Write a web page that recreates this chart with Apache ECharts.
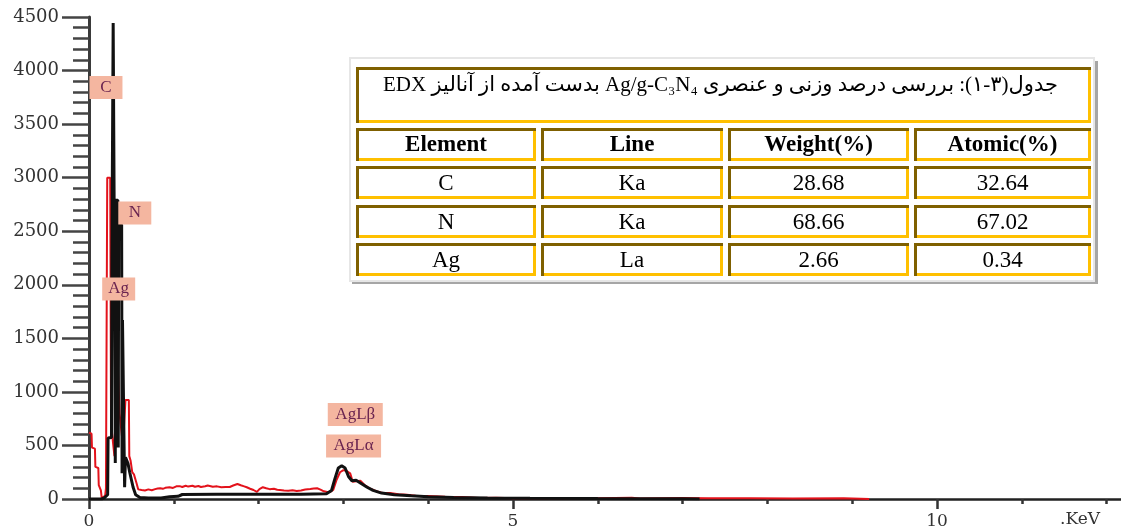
<!DOCTYPE html>
<html>
<head>
<meta charset="utf-8">
<script src="https://cdn.jsdelivr.net/npm/echarts@6/dist/echarts.min.js"></script>
<style>
html, body { margin: 0; padding: 0; background: #fff; }
#chart { width: 1121px; height: 529px; }
</style>
</head>
<body>
<div id="chart"></div>
<script>
// EDX spectrum of Ag/g-C3N4, two traces (keV, counts)
const redEnergy = [0.00, 0.03, 0.035, 0.07, 0.075, 0.11, 0.115, 0.14, 0.15, 0.17, 0.19, 0.20, 0.21, 0.215, 0.25, 0.26, 0.30, 0.33, 0.36, 0.40, 0.43, 0.47, 0.475, 0.49, 0.51, 0.53, 0.56, 0.58, 0.62, 0.66, 0.70, 0.74, 0.78, 0.81, 0.84, 0.87, 0.90, 0.95, 0.99, 1.03, 1.07, 1.10, 1.14, 1.17, 1.22, 1.25, 1.29, 1.32, 1.37, 1.40, 1.42, 1.46, 1.51, 1.56, 1.61, 1.66, 1.70, 1.75, 1.79, 1.83, 1.86, 1.90, 1.94, 1.98, 2.01, 2.05, 2.09, 2.13, 2.18, 2.22, 2.25, 2.30, 2.35, 2.40, 2.45, 2.50, 2.55, 2.61, 2.65, 2.69, 2.73, 2.77, 2.81, 2.84, 2.88, 2.92, 2.96, 3.00, 3.04, 3.08, 3.11, 3.15, 3.20, 3.25, 3.31, 3.38, 3.47, 3.55, 3.65, 3.75, 3.85, 4.00, 4.20, 4.40, 4.60, 4.80, 5.00, 5.30, 5.60, 6.00, 6.40, 6.50, 7.00, 7.30, 7.80, 8.30, 8.90, 9.20]
const redCounts = [620, 610, 480, 470, 300, 290, 130, 80, 10, 0, 30, 100, 110, 3000, 3000, 700, 400, 1500, 800, 500, 925, 925, 400, 360, 250, 230, 150, 90, 84, 80, 90, 82, 92, 98, 100, 95, 104, 110, 103, 118, 120, 112, 124, 116, 124, 114, 121, 112, 119, 126, 112, 114, 118, 110, 113, 112, 126, 140, 128, 118, 110, 96, 84, 66, 92, 110, 100, 92, 96, 86, 84, 80, 78, 82, 75, 80, 88, 93, 98, 100, 88, 72, 66, 65, 84, 180, 250, 270, 260, 240, 160, 165, 170, 130, 100, 75, 55, 55, 45, 40, 30, 28, 22, 18, 10, 12, 8, 10, 6, 8, 12, 4, 10, 6, 8, 4, 8, 0]

const blackEnergy = [0.00, 0.15, 0.18, 0.22, 0.225, 0.265, 0.27, 0.285, 0.295, 0.30, 0.31, 0.315, 0.34, 0.345, 0.35, 0.385, 0.39, 0.395, 0.415, 0.42, 0.43, 0.44, 0.46, 0.48, 0.50, 0.52, 0.55, 0.60, 0.70, 0.85, 0.95, 1.05, 1.10, 1.50, 2.00, 2.50, 2.80, 2.86, 2.90, 2.94, 2.98, 3.02, 3.06, 3.10, 3.15, 3.20, 3.28, 3.35, 3.45, 3.60, 3.80, 4.00, 4.30, 4.70, 5.20, 6.00, 7.00, 7.20]
const blackCounts = [0, 0, 10, 40, 570, 575, 2250, 4445, 4445, 2250, 335, 2790, 2790, 480, 2560, 2560, 240, 1670, 1670, 110, 390, 380, 330, 250, 180, 110, 40, 15, 10, 10, 20, 25, 42, 44, 45, 44, 48, 80, 190, 290, 310, 290, 210, 170, 175, 150, 110, 80, 55, 40, 30, 22, 15, 10, 6, 4, 2, 0]

// peak annotations
const peakNames = ['C', 'N', 'Ag', 'AgLβ', 'AgLα']
const peakEnergy = [0.20, 0.54, 0.35, 3.14, 3.12]
const peakCounts = [3842, 2670, 1961, 789, 495]

// inset table
const tableCaption = 'جدول(۳-۱): بررسی درصد وزنی و عنصری Ag/g-C₃N₄ بدست آمده از آنالیز EDX'
const tableHeader = ['Element', 'Line', 'Weight(%)', 'Atomic(%)']
const tableElements = ['C', 'N', 'Ag']
const tableLines = ['Ka', 'Ka', 'La']
const tableWeight = ['28.68', '68.66', '2.66']
const tableAtomic = ['32.64', '67.02', '0.34']

const zip = (xs, ys) => xs.map((x, i) => [x, ys[i]])

const colX = [356, 541, 728, 914]
const colW = [180, 182, 181, 177]
const rowY = [128, 166, 205, 243]
const rowH = 33
const dark = '#7f6000'
const gold = '#ffc000'

function cell(x, y, w, h) {
  const b = 3
  return [
    { type: 'rect', shape: { x, y, width: w, height: h }, style: { fill: '#fff' } },
    { type: 'rect', shape: { x, y, width: w, height: b }, style: { fill: dark } },
    { type: 'rect', shape: { x, y, width: b, height: h }, style: { fill: dark } },
    { type: 'rect', shape: { x: x + b, y: y + h - b, width: w - b, height: b }, style: { fill: gold } },
    { type: 'rect', shape: { x: x + w - b, y: y + b, width: b, height: h - b }, style: { fill: gold } }
  ]
}

function cellText(text, col, row, bold) {
  return {
    type: 'text',
    style: {
      text,
      x: colX[col] + colW[col] / 2,
      y: rowY[row] + rowH / 2 + 1,
      align: 'center',
      verticalAlign: 'middle',
      fill: '#000',
      font: (bold ? 'bold ' : '') + '23px "Liberation Serif"'
    }
  }
}

const table = []
// frame with shadow
table.push({ type: 'rect', shape: { x: 352, y: 61, width: 746, height: 223 }, style: { fill: '#a6a6a6' } })
table.push({ type: 'rect', shape: { x: 350, y: 58, width: 744, height: 223 }, style: { fill: '#fff', stroke: '#e6e6e6', lineWidth: 2 } })
table.push(...cell(356, 67, 735, 56))
table.push({
  type: 'text',
  style: {
    text: '\u202B' + tableCaption + '\u202C',
    x: 1058,
    y: 85,
    align: 'right',
    verticalAlign: 'middle',
    fill: '#000',
    font: '21px "Liberation Serif", "DejaVu Sans"'
  }
})
for (let r = 0; r < 4; r++) {
  for (let c = 0; c < 4; c++) table.push(...cell(colX[c], rowY[r], colW[c], rowH))
}
tableHeader.forEach((t, c) => table.push(cellText(t, c, 0, true)))
const columns = [tableElements, tableLines, tableWeight, tableAtomic]
columns.forEach((col, c) => col.forEach((t, r) => table.push(cellText(t, c, r + 1, false))))

table.push({
  type: 'text',
  style: {
    text: '.KeV', x: 1080, y: 520, align: 'center', verticalAlign: 'middle',
    fill: '#333', font: '17px "DejaVu Serif"'
  }
})

const chart = echarts.init(document.getElementById('chart'))
const option = {
  animation: false,
  backgroundColor: '#fff',
  grid: { left: 89, top: 17, width: 1272, height: 482, outerBoundsMode: 'none' },
  xAxis: {
    type: 'value',
    min: 0,
    max: 15,
    interval: 5,
    axisLine: { show: true, onZero: false, lineStyle: { color: '#222', width: 2.5 } },
    axisTick: { show: true, length: 10, lineStyle: { color: '#333', width: 2.5 } },
    minorTick: { show: true, splitNumber: 5, length: 5, lineStyle: { color: '#333', width: 2.5 } },
    axisLabel: { margin: 14, color: '#333', fontFamily: 'DejaVu Serif', fontSize: 17 },
    splitLine: { show: false }
  },
  yAxis: {
    type: 'value',
    min: 0,
    max: 4500,
    interval: 500,
    axisLine: { show: true, lineStyle: { color: '#3a3a3a', width: 3 } },
    axisTick: { show: true, length: 27, lineStyle: { color: '#444', width: 2.5 } },
    minorTick: { show: true, splitNumber: 5, length: 16, lineStyle: { color: '#444', width: 2.5 } },
    axisLabel: { margin: 30, color: '#333', fontFamily: 'DejaVu Serif', fontSize: 18, formatter: v => String(v) },
    splitLine: { show: false }
  },
  series: [
    {
      type: 'line',
      data: zip(redEnergy, redCounts),
      showSymbol: false,
      lineStyle: { color: '#e3121b', width: 2 },
      z: 2
    },
    {
      type: 'line',
      data: zip(blackEnergy, blackCounts),
      showSymbol: false,
      lineStyle: { color: '#111', width: 3 },
      z: 3
    },
    {
      type: 'scatter',
      data: peakNames.map((n, i) => ({ name: n, value: [peakEnergy[i], peakCounts[i]] })),
      symbol: 'rect',
      symbolSize: (v, p) => [p.name.length > 2 ? 55 : 33, 23],
      itemStyle: { color: '#f4b6a0', opacity: 1 },
      label: {
        show: true,
        position: 'inside',
        formatter: '{b}',
        color: '#6a2450',
        fontFamily: 'Liberation Serif',
        fontSize: 17
      },
      labelLayout: { hideOverlap: false },
      emphasis: { disabled: true },
      z: 5
    }
  ],
  graphic: table.map(g => Object.assign({ z: 100 }, g))
}
chart.setOption(option)
</script>
</body>
</html>
